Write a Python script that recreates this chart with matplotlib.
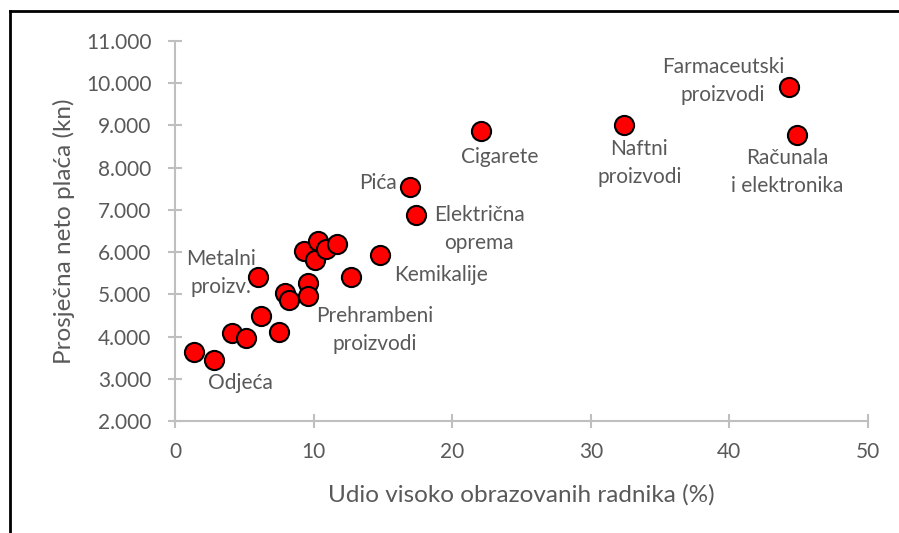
import matplotlib.pyplot as plt
from matplotlib.lines import Line2D
from matplotlib.ticker import FuncFormatter

# udio visoko obrazovanih radnika (%) i prosječna neto plaća (kn)
udio = [1.4, 2.8, 4.1, 5.1, 6.2, 7.5, 6.0, 7.9, 8.2, 9.6, 9.6, 9.3, 10.3, 10.1,
        10.9, 11.7, 12.7, 14.8, 16.95, 17.4, 22.1, 32.4, 44.3, 44.9]
placa = [3640, 3450, 4090, 3970, 4490, 4100, 5400, 5030, 4870, 5280, 4950, 6030,
         6260, 5820, 6080, 6190, 5400, 5920, 7545, 6880, 8870, 9010, 9910, 8770]

oznake = ["Farmaceutski\nproizvodi", "Naftni\nproizvodi", "Računala\ni elektronika",
          "Cigarete", "Pića", "Električna\noprema", "Kemikalije", "Metalni\nproizv.",
          "Prehrambeni\nproizvodi", "Odjeća"]
oznake_x = [39.55, 33.5, 44.15, 23.4, 14.65, 21.95, 19.2, 3.3, 14.4, 4.75]
oznake_y = [10060, 8115, 7900, 8255, 7640, 6540, 5460, 5510, 4160, 2900]

siva = "#595959"
plt.rcParams['font.family'] = ['Lato', 'DejaVu Sans']

fig = plt.figure(figsize=(8.99, 5.33), dpi=100)
ax = fig.add_axes([0.1947, 0.2101, 0.7708, 0.7130])

ax.scatter(udio, placa, s=190, c="#ff0000", edgecolors="black", linewidths=1.5, zorder=3)

for t, x, y in zip(oznake, oznake_x, oznake_y):
    ax.text(x, y, t, ha="center", va="center", fontsize=15, color=siva,
            linespacing=1.5)

ax.set_xlim(0, 50)
ax.set_ylim(2000, 11000)
ax.set_xticks(range(0, 51, 10))
ax.set_yticks(range(2000, 11001, 1000))
ax.yaxis.set_major_formatter(FuncFormatter(lambda v, p: f"{int(v):,}".replace(",", ".")))

for s in ["top", "right"]:
    ax.spines[s].set_visible(False)
for s in ["left", "bottom"]:
    ax.spines[s].set_color("#bfbfbf")
    ax.spines[s].set_linewidth(1.5)
ax.tick_params(direction="inout", length=10, width=1.5, color="#bfbfbf",
               labelcolor=siva, labelsize=15)
ax.tick_params(axis="x", pad=10)
ax.tick_params(axis="y", pad=12)

ax.set_xlabel("Udio visoko obrazovanih radnika (%)", fontsize=17.5, color=siva, labelpad=16)
ax.set_ylabel("Prosječna neto plaća (kn)", fontsize=17.5, color=siva, labelpad=8)

# okvir (vidljiv samo lijevo i gore)
fig.add_artist(Line2D([0.011, 0.011], [0, 0.979], color="black", lw=2, transform=fig.transFigure))
fig.add_artist(Line2D([0.011, 1.0], [0.979, 0.979], color="black", lw=2, transform=fig.transFigure))

fig.savefig("out.png", dpi=100)
